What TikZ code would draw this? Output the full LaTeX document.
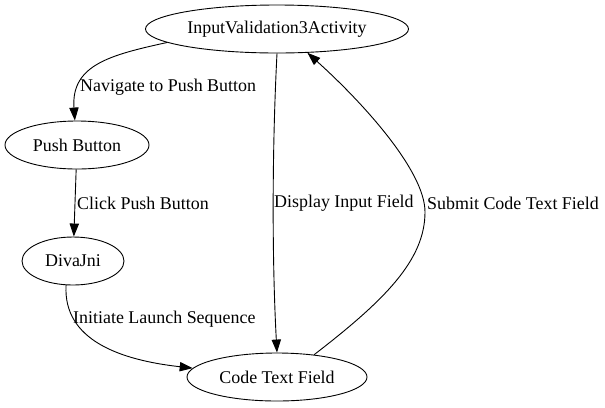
\documentclass[tikz,border=0pt]{standalone}
\usepackage{fontspec}
\setmainfont{Liberation Serif}
\usetikzlibrary{shapes.geometric, arrows.meta}
\tikzset{state/.style={draw, ellipse, inner sep=0pt, minimum height=48bp, line width=0.9bp, font=\fontsize{18}{22}\selectfont}}
\tikzset{trans/.style={-{Triangle[length=13bp, width=9.3bp]}, line width=0.9bp}}
\tikzset{lbl/.style={anchor=west, inner sep=0pt, font=\fontsize{18}{22}\selectfont}}

\begin{document}
\begin{tikzpicture}[x=1bp, y=-1bp]
\useasboundingbox (0,0) rectangle (605,407);
\node[state, minimum width=263bp] (iv) at (277,29) {InputValidation3Activity};
\node[state, minimum width=144bp] (pb) at (77,145) {Push Button};
\node[state, minimum width=102bp] (dj) at (73,261) {DivaJni};
\node[state, minimum width=180bp] (ctf) at (277,377) {Code Text Field};
\draw[trans] (iv.187) .. controls (110,55) and (71,65) .. (pb.95);
\node[lbl] (l1) at (80,87) {Navigate to Push Button};
\draw[trans] (pb) -- (dj);
\node[lbl] (l2) at (77,203) {Click Push Button};
\draw[trans] (dj.254) .. controls (63,340) and (120,360) .. (ctf.174);
\node[lbl] (l3) at (73,319) {Initiate Launch Sequence};
\draw[trans] (iv.south) .. controls (272,150) and (272,260) .. (ctf.north);
\node[lbl] (l4) at (274,203) {Display Input Field};
\draw[trans] (ctf.31) .. controls (385,300) and (425,260) .. (425,212) .. controls (425,170) and (360,100) .. (iv.322);
\node[lbl] (l5) at (427,203) {Submit Code Text Field};
\end{tikzpicture}
\end{document}
